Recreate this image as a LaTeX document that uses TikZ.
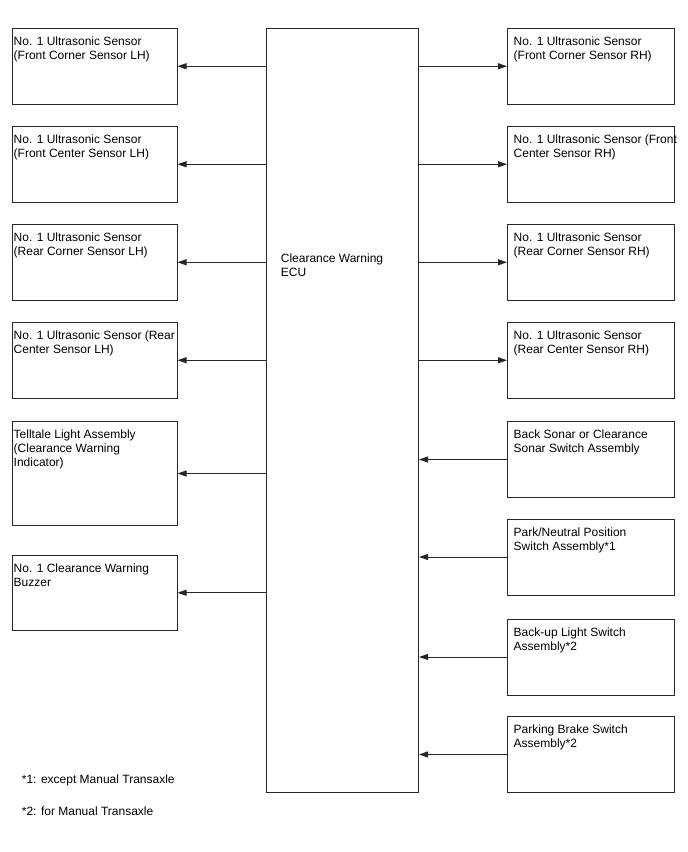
\documentclass[tikz,border=0pt]{standalone}
\usepackage{fontspec}
\setmainfont{Liberation Sans}
\usetikzlibrary{arrows.meta}
\begin{document}
\begin{tikzpicture}[x=1pt,y=-1pt,
  box/.style={draw=black!85, line width=1pt, rectangle, inner sep=0pt},
  txt/.style={anchor=north west, inner sep=0pt, align=left, font=\fontsize{12}{13.7}\selectfont},
  arr/.style={draw=black!85, line width=1pt, -{Triangle[length=9pt,width=6pt]}}]
\useasboundingbox (0,0) rectangle (688,852);
% ECU
\node[box, minimum width=152pt, minimum height=764pt] (ecu) at (342.5,410.5) {};
\node[txt] (tecu) at (280.7,254) {Clearance Warning\\ECU};
% left boxes
\node[box, minimum width=165pt, minimum height=75.5pt] (l1) at (94.5,66.25) {};
\node[box, minimum width=165pt, minimum height=75.5pt] (l2) at (94.5,164.25) {};
\node[box, minimum width=165pt, minimum height=75.5pt] (l3) at (94.5,262.25) {};
\node[box, minimum width=165pt, minimum height=75.5pt] (l4) at (94.5,360.25) {};
\node[box, minimum width=165pt, minimum height=104pt] (l5) at (94.5,473.5) {};
\node[box, minimum width=165pt, minimum height=75.5pt] (l6) at (94.5,592.75) {};
\node[txt] (tl1) at ([shift={(2,9)}]l1.north west) {No. 1 Ultrasonic Sensor\\(Front Corner Sensor LH)};
\node[txt] (tl2) at ([shift={(2,9)}]l2.north west) {No. 1 Ultrasonic Sensor\\(Front Center Sensor LH)};
\node[txt] (tl3) at ([shift={(2,9)}]l3.north west) {No. 1 Ultrasonic Sensor\\(Rear Corner Sensor LH)};
\node[txt] (tl4) at ([shift={(2,9)}]l4.north west) {No. 1 Ultrasonic Sensor (Rear\\Center Sensor LH)};
\node[txt] (tl5) at ([shift={(2,9)}]l5.north west) {Telltale Light Assembly\\(Clearance Warning\\Indicator)};
\node[txt] (tl6) at ([shift={(2,9)}]l6.north west) {No. 1 Clearance Warning\\Buzzer};
% right boxes
\node[box, minimum width=166.5pt, minimum height=75.5pt] (r1) at (590.75,66.25) {};
\node[box, minimum width=166.5pt, minimum height=75.5pt] (r2) at (590.75,164.25) {};
\node[box, minimum width=166.5pt, minimum height=75.5pt] (r3) at (590.75,262.25) {};
\node[box, minimum width=166.5pt, minimum height=75.5pt] (r4) at (590.75,360.25) {};
\node[box, minimum width=166.5pt, minimum height=76pt] (r5) at (590.75,459.5) {};
\node[box, minimum width=166.5pt, minimum height=76pt] (r6) at (590.75,557) {};
\node[box, minimum width=166.5pt, minimum height=76pt] (r7) at (590.75,657) {};
\node[box, minimum width=166.5pt, minimum height=76pt] (r8) at (590.75,754.5) {};
\node[txt] (tr1) at ([shift={(6.5,9)}]r1.north west) {No. 1 Ultrasonic Sensor\\(Front Corner Sensor RH)};
\node[txt] (tr2) at ([shift={(6.5,9)}]r2.north west) {No. 1 Ultrasonic Sensor (Front\\Center Sensor RH)};
\node[txt] (tr3) at ([shift={(6.5,9)}]r3.north west) {No. 1 Ultrasonic Sensor\\(Rear Corner Sensor RH)};
\node[txt] (tr4) at ([shift={(6.5,9)}]r4.north west) {No. 1 Ultrasonic Sensor\\(Rear Center Sensor RH)};
\node[txt] (tr5) at ([shift={(6.5,9)}]r5.north west) {Back Sonar or Clearance\\Sonar Switch Assembly};
\node[txt] (tr6) at ([shift={(6.5,9)}]r6.north west) {Park/Neutral Position\\Switch Assembly*1};
\node[txt] (tr7) at ([shift={(6.5,9)}]r7.north west) {Back-up Light Switch\\Assembly*2};
\node[txt] (tr8) at ([shift={(6.5,9)}]r8.north west) {Parking Brake Switch\\Assembly*2};
% arrows
\foreach \n in {l1,l2,l3,l4,l5,l6}{
  \draw[arr] (\n.east -| ecu.west) -- (\n.east);
}
\foreach \n in {r1,r2,r3,r4}{
  \draw[arr] (\n.west -| ecu.east) -- (\n.west);
}
\foreach \n in {r5,r6,r7,r8}{
  \draw[arr] (\n.west) -- (\n.west -| ecu.east);
}
% footnotes
\node[txt, anchor=base west] (f1) at (21.7,783) {*1: except Manual Transaxle};
\node[txt, anchor=base west] (f2) at (21.7,815) {*2: for Manual Transaxle};
\end{tikzpicture}
\end{document}
